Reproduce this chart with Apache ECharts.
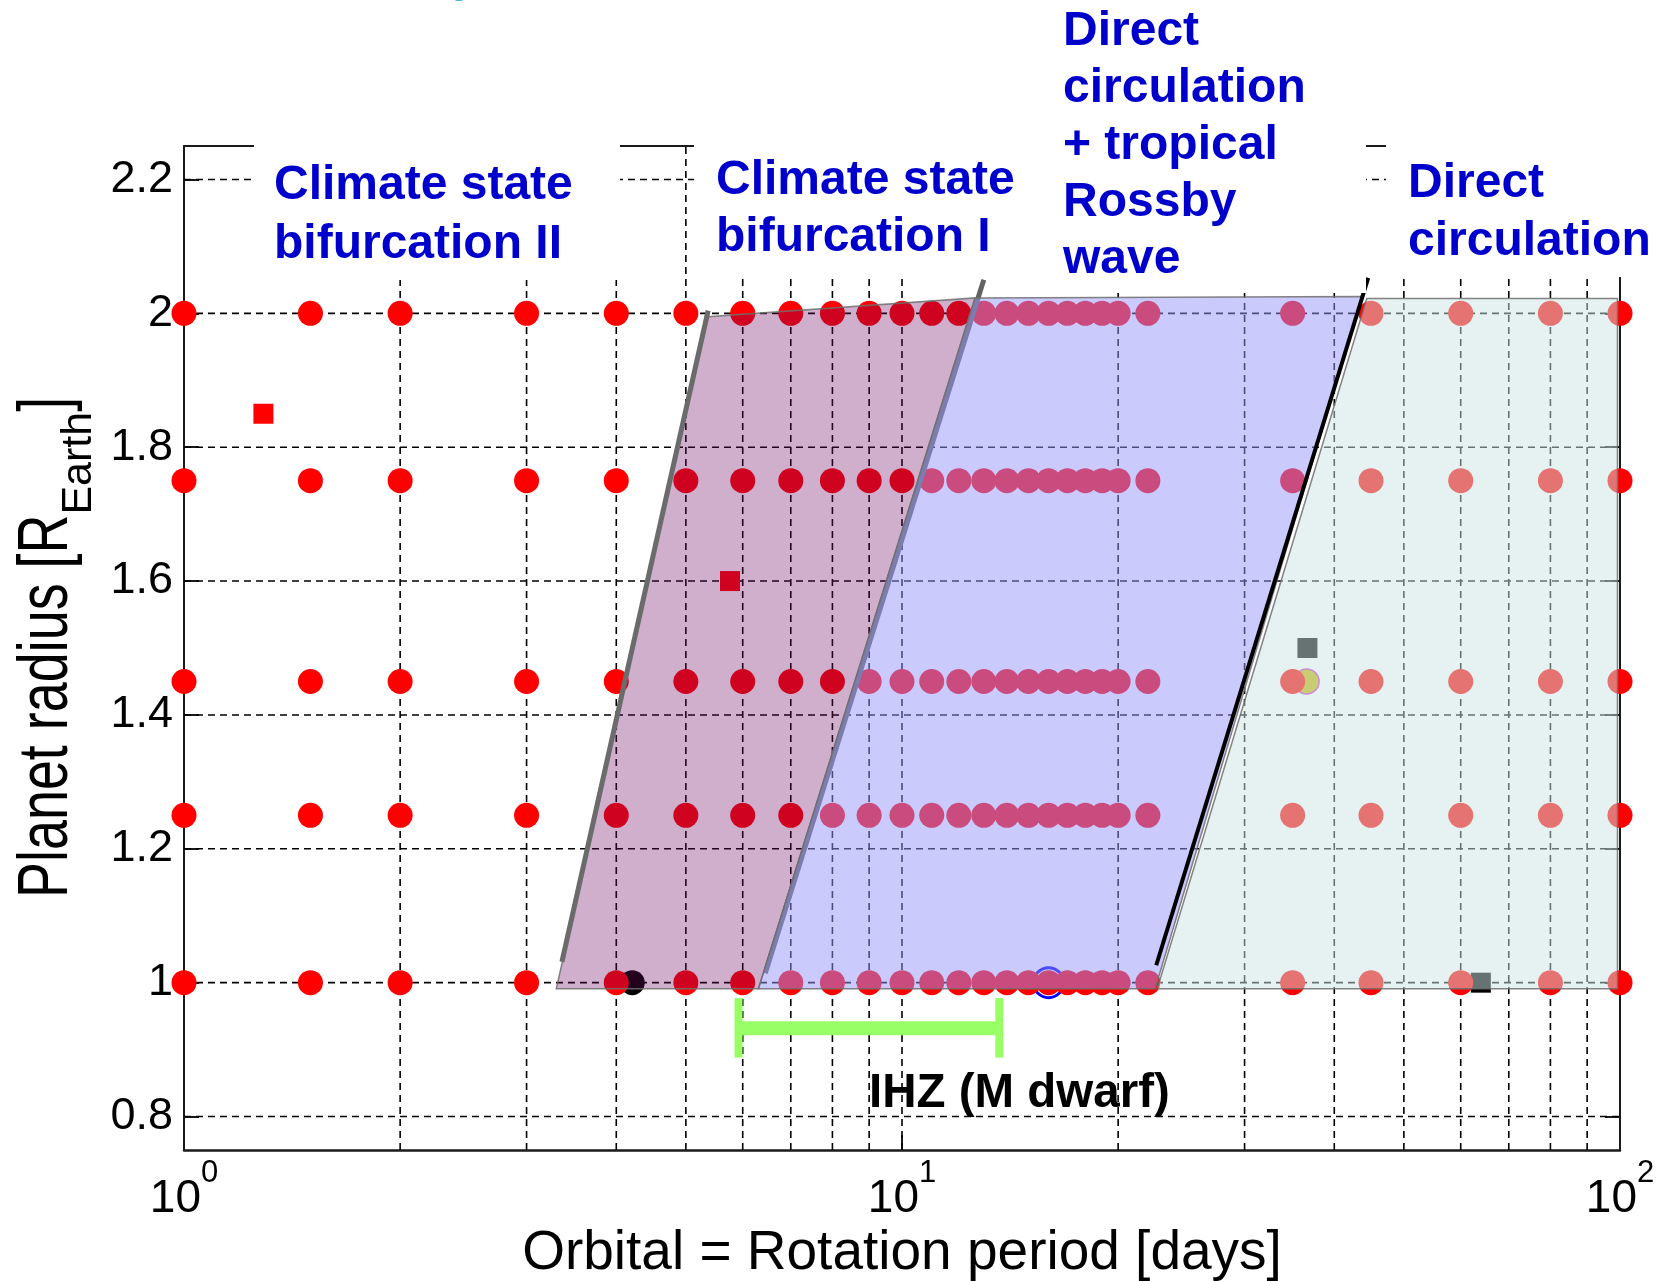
<!DOCTYPE html>
<html><head><meta charset="utf-8">
<script src="https://cdn.jsdelivr.net/npm/echarts@6/dist/echarts.min.js"></script>
<style>html,body{margin:0;padding:0;background:#fff}#c{width:1662px;height:1281px}</style>
</head><body><div id="c"></div>
<script>
// ---- data ----
const periods = [1,1.5,2,3,4,5,6,7,8,9,10,11,12,13,14,15,16,17,18,19,20,22,35,45,60,80,100];
const radii = [1.0,1.25,1.45,1.75,2.0];
const redSquares = [[1.29,1.85],[5.76,1.6]];
const blackSquares = [[36.7,1.5],[64,1.0]];
const blackCircle = [[4.21,1.0]];
const blueCircle = [[16,1.0]];
const yellowCircle = [[36.6,1.45]];
const regionBifII = [[3.3,0.991],[5.37,1.995],[12.64,2.023],[6.31,0.991]];
const regionRossby = [[6.31,0.991],[12.64,2.023],[43.7,2.025],[22.52,0.991]];
const regionDirect = [[22.67,0.991],[44.4,2.022],[99.2,2.022],[99.2,0.991]];
const boundary1 = [[3.36,1.031],[5.37,2.004]];
const boundary2 = [[6.45,1.014],[13.0,2.05]];
const boundary3 = [[22.6,1.026],[44.6,2.053]];
const ihzRange = [5.92,13.66];
const ihzY = [0.932];
const ihzCap = [0.888,0.977];
const xGridTicks = [2,3,4,5,6,7,8,9,10,20,30,40,50,60,70,80,90];
const yTicks = [0.8,1.0,1.2,1.4,1.6,1.8,2.0,2.2];
const xRange = [1,100];
const yRange = [0.75,2.25];

const FF = '"Liberation Sans", Arial, Helvetica, sans-serif';
const gridPts = [];
radii.forEach(r => periods.forEach(p => gridPts.push([p, r])));

const chart = echarts.init(document.getElementById('c'), null, {renderer:'canvas'});

function polySeries(points, fill, z){
  return {type:'custom', coordinateSystem:'cartesian2d', z, silent:true, clip:false,
    data:[points[0]],
    renderItem:function(params, api){
      return {type:'polygon', shape:{points:points.map(p=>api.coord(p))},
        style:{fill, stroke:'rgba(110,110,110,0.85)', lineWidth:1.5}};
    }};
}
function lineSeries(data, color, width, z){
  return {type:'line', data, symbol:'none', silent:true, z, clip:false,
    lineStyle:{color, width, cap:'butt'}, emphasis:{disabled:true}};
}
function scat(data, symbol, size, z, itemStyle){
  return {type:'scatter', data, symbol, symbolSize:size, z, silent:true,
    itemStyle:Object.assign({opacity:1}, itemStyle), emphasis:{disabled:true}};
}
const dashStyle = {stroke:'#000', lineWidth:1.6, lineDash:[7,5]};

const option = {
  animation:false,
  grid:{left:184, right:42, top:146, bottom:131, containLabel:false, outerBoundsMode:'none'},
  xAxis:[{
    type:'log', logBase:10, min:xRange[0], max:xRange[1], position:'bottom',
    axisLine:{show:true, onZero:false, lineStyle:{color:'#1a1a1a', width:2.5}},
    axisTick:{show:true, inside:true, length:15, lineStyle:{color:'#1a1a1a', width:2}},
    splitLine:{show:false}, minorTick:{show:false},
    axisLabel:{margin:8, color:'#000',
      formatter:v=>'{a|10}{b|'+Math.round(Math.log10(v))+'}',
      rich:{a:{fontSize:46, fontFamily:FF, color:'#000', lineHeight:46, verticalAlign:'bottom'},
            b:{fontSize:31, fontFamily:FF, color:'#000', lineHeight:64, verticalAlign:'top'}}},
    name:'Orbital = Rotation period [days]', nameLocation:'middle', nameGap:76, nameMoveOverlap:false,
    nameTextStyle:{fontSize:55, color:'#000', fontFamily:FF, lineHeight:55}
  },{
    type:'log', logBase:10, min:xRange[0], max:xRange[1], position:'top',
    axisLine:{show:true, onZero:false, lineStyle:{color:'#1a1a1a', width:2}},
    axisTick:{show:true, inside:true, length:15, lineStyle:{color:'#1a1a1a', width:2}},
    axisLabel:{show:false}, splitLine:{show:false}
  }],
  yAxis:[{
    type:'value', min:yRange[0], max:yRange[1], position:'left',
    axisLine:{show:true, onZero:false, lineStyle:{color:'#1a1a1a', width:2}},
    axisTick:{show:true, inside:true, length:15, customValues:yTicks, lineStyle:{color:'#1a1a1a', width:2}},
    axisLabel:{customValues:yTicks, margin:11, fontSize:45, fontFamily:FF, color:'#000',
      formatter:v=>String(+(+v).toFixed(2))},
    splitLine:{show:false}
  },{
    type:'value', min:yRange[0], max:yRange[1], position:'right',
    axisLine:{show:true, onZero:false, lineStyle:{color:'#1a1a1a', width:2}},
    axisTick:{show:true, inside:true, length:15, customValues:yTicks, lineStyle:{color:'#1a1a1a', width:2}},
    axisLabel:{show:false}, splitLine:{show:false}
  }],
  series:[
    // dashed grid
    {type:'custom', coordinateSystem:'cartesian2d', z:1, silent:true,
      data:xGridTicks.map(v=>[v, yRange[0]]),
      renderItem:function(params, api){
        const v = api.value(0);
        const a = api.coord([v, yRange[0]]), b = api.coord([v, yRange[1]]);
        return {type:'line', shape:{x1:a[0],y1:a[1],x2:b[0],y2:b[1]}, style:dashStyle};
      }},
    {type:'custom', coordinateSystem:'cartesian2d', z:1, silent:true,
      data:yTicks.map(v=>[xRange[0], v]),
      renderItem:function(params, api){
        const v = api.value(1);
        const a = api.coord([xRange[0], v]), b = api.coord([xRange[1], v]);
        return {type:'line', shape:{x1:a[0],y1:a[1],x2:b[0],y2:b[1]}, style:dashStyle};
      }},
    // special markers (under the dots)
    scat(blackCircle, 'circle', 25, 2, {color:'#000'}),
    scat(blueCircle, 'circle', 30, 2, {color:'rgba(0,0,0,0)', borderColor:'#0000ff', borderWidth:3}),
    scat(yellowCircle, 'circle', 25, 2, {color:'#c4b400', borderColor:'#cc33cc', borderWidth:1.5}),
    scat(blackSquares, 'rect', 20, 2, {color:'#000'}),
    scat(redSquares, 'rect', 20, 2, {color:'#ff0000'}),
    // simulation dots
    scat(gridPts, 'circle', 25, 3, {color:'#ff0000'}),
    // regimes
    polySeries(regionBifII, 'rgba(107,6,97,0.32)', 4),
    lineSeries(boundary1, '#6b6b6b', 5, 5),
    lineSeries(boundary2, '#626262', 5, 5),
    polySeries(regionRossby, 'rgba(149,149,249,0.5)', 6),
    polySeries(regionDirect, 'rgba(203,229,227,0.5)', 6),
    lineSeries(boundary3, '#000', 4, 7),
    // IHZ bar
    lineSeries([[ihzRange[0], ihzY[0]],[ihzRange[1], ihzY[0]]], '#99ff66', 14, 7),
    lineSeries([[ihzRange[0], ihzCap[0]],[ihzRange[0], ihzCap[1]]], '#99ff66', 8, 7),
    lineSeries([[ihzRange[1], ihzCap[0]],[ihzRange[1], ihzCap[1]]], '#99ff66', 8, 7)
  ],
  graphic:[
    // white backgrounds of the annotation text boxes
    {type:'rect', z:100, silent:true, shape:{x:254, y:0, width:366, height:280}, style:{fill:'#fff'}},
    {type:'rect', z:100, silent:true, shape:{x:694, y:0, width:356, height:277}, style:{fill:'#fff'}},
    {type:'rect', z:100, silent:true, shape:{x:1050, y:0, width:316, height:293}, style:{fill:'#fff'}},
    {type:'rect', z:100, silent:true, shape:{x:1386, y:0, width:276, height:277}, style:{fill:'#fff'}},
    // cut-off letter at the very top
    {type:'text', z:110, silent:true, x:453, y:-46,
      style:{text:'y', fill:'#44b4ee', font:'bold 48px '+FF, lineHeight:48, align:'left', verticalAlign:'top'}},
    // annotations
    {type:'text', z:110, silent:true, x:274, y:156,
      style:{text:'Climate state\nbifurcation II', fill:'#0000cc', font:'bold 48px '+FF, lineHeight:59, align:'left', verticalAlign:'top'}},
    {type:'text', z:110, silent:true, x:716, y:152,
      style:{text:'Climate state\nbifurcation I', fill:'#0000cc', font:'bold 48px '+FF, lineHeight:57, align:'left', verticalAlign:'top'}},
    {type:'text', z:110, silent:true, x:1063, y:3,
      style:{text:'Direct\ncirculation\n+ tropical\nRossby\nwave', fill:'#0000cc', font:'bold 48px '+FF, lineHeight:57, align:'left', verticalAlign:'top'}},
    {type:'text', z:110, silent:true, x:1408, y:155,
      style:{text:'Direct\ncirculation', fill:'#0000cc', font:'bold 48px '+FF, lineHeight:58, align:'left', verticalAlign:'top'}},
    {type:'text', z:110, silent:true, x:869, y:1070,
      style:{text:'IHZ (M dwarf)', fill:'#000', font:'bold 47.5px '+FF, lineHeight:47, align:'left', verticalAlign:'top'}},
    // y-axis title
    {type:'text', z:110, silent:true, x:47.5, y:898, rotation:Math.PI/2, scaleX:0.77,
      style:{text:'Planet radius [R', fill:'#000', font:'70px '+FF, lineHeight:70, align:'left', verticalAlign:'middle'}},
    {type:'text', z:110, silent:true, x:79, y:514.6, rotation:Math.PI/2,
      style:{text:'Earth', fill:'#000', font:'43px '+FF, lineHeight:43, align:'left', verticalAlign:'middle'}},
    {type:'text', z:110, silent:true, x:47.5, y:411.8, rotation:Math.PI/2, scaleX:0.77,
      style:{text:']', fill:'#000', font:'70px '+FF, lineHeight:70, align:'left', verticalAlign:'middle'}}
  ]
};
chart.setOption(option);
</script></body></html>
